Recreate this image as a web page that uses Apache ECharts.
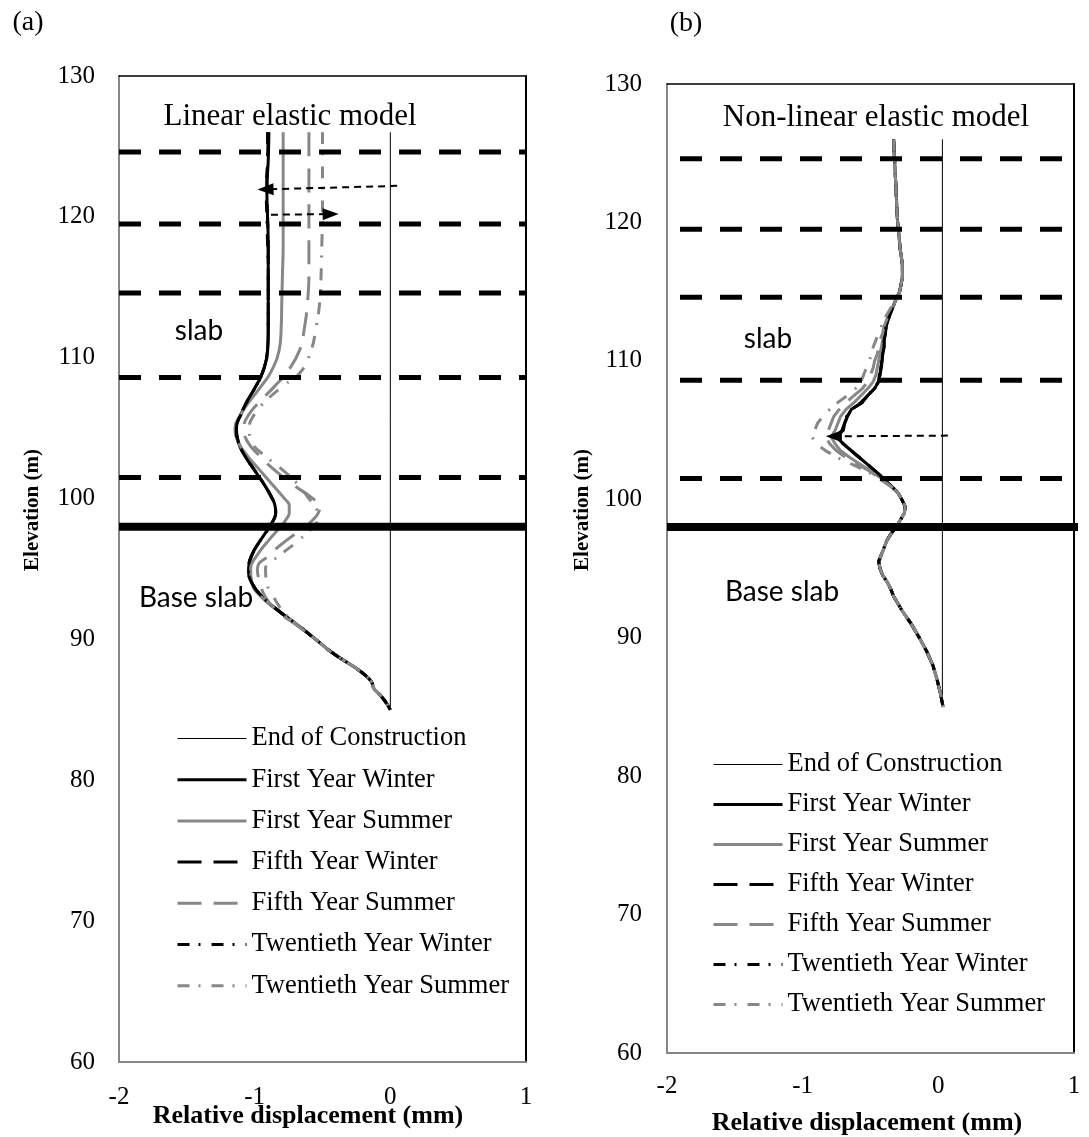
<!DOCTYPE html>
<html><head><meta charset="utf-8">
<script src="https://cdn.jsdelivr.net/npm/echarts@6/dist/echarts.min.js"></script>
<style>html,body{margin:0;padding:0;background:#fff}#c{width:1089px;height:1137px}</style>
</head><body><div id="c"></div>
<script>
// ---------- data ----------
const seriesNames = ['End of Construction','First Year Winter','First Year Summer','Fifth Year Winter','Fifth Year Summer','Twentieth Year Winter','Twentieth Year Summer'];
const xTickValues = [-2, -1, 0, 1];
const yTickValues = [60, 70, 80, 90, 100, 110, 120, 130];
const slabLevels = [124.6, 119.5, 114.6, 108.6, 101.5];
const baseSlabLevel = 98.0;
const slabExtentA = [-2, 1];
const slabExtentB = [-2, 1.11];

// panel (a) linear elastic model
const eocElevA = [85, 126];
const eocA = [0, 0];
const elevA = [126,124,122,120,118,116,114,112,110.5,109,108,107,106,105,104,103,102,101,100,99.5,99,98.5,98,97,96,95,94,93,92,91,90,89,88,87.5,87,86.5,86,85.5,85];
const a_FirstWinter  = [-0.895,-0.90,-0.91,-0.905,-0.90,-0.90,-0.90,-0.90,-0.905,-0.94,-0.99,-1.05,-1.10,-1.135,-1.12,-1.07,-1.00,-0.93,-0.87,-0.85,-0.845,-0.86,-0.89,-0.96,-1.02,-1.045,-1.02,-0.94,-0.82,-0.68,-0.55,-0.42,-0.26,-0.19,-0.14,-0.12,-0.07,-0.03,0];
const a_FirstSummer  = [-0.79,-0.79,-0.79,-0.79,-0.79,-0.795,-0.80,-0.805,-0.82,-0.88,-0.95,-1.03,-1.10,-1.145,-1.12,-1.05,-0.96,-0.87,-0.78,-0.745,-0.745,-0.77,-0.81,-0.90,-0.98,-1.03,-1.02,-0.95,-0.82,-0.68,-0.55,-0.42,-0.26,-0.19,-0.14,-0.12,-0.07,-0.03,0];
const a_FifthWinter  = [-0.90,-0.905,-0.91,-0.905,-0.90,-0.90,-0.90,-0.90,-0.905,-0.94,-0.99,-1.05,-1.10,-1.135,-1.12,-1.07,-1.00,-0.93,-0.87,-0.85,-0.845,-0.86,-0.89,-0.96,-1.02,-1.045,-1.02,-0.94,-0.82,-0.68,-0.55,-0.42,-0.26,-0.19,-0.14,-0.12,-0.07,-0.03,0];
const a_FifthSummer  = [-0.60,-0.60,-0.60,-0.60,-0.60,-0.60,-0.61,-0.635,-0.67,-0.76,-0.85,-0.95,-1.04,-1.08,-1.05,-0.96,-0.85,-0.72,-0.57,-0.52,-0.53,-0.57,-0.63,-0.77,-0.89,-0.98,-0.96,-0.92,-0.83,-0.69,-0.55,-0.42,-0.26,-0.19,-0.14,-0.12,-0.07,-0.03,0];
const a_TwentWinter  = [-0.905,-0.905,-0.915,-0.91,-0.905,-0.90,-0.90,-0.90,-0.905,-0.94,-0.99,-1.05,-1.10,-1.135,-1.12,-1.07,-1.00,-0.93,-0.87,-0.85,-0.845,-0.86,-0.89,-0.96,-1.02,-1.045,-1.02,-0.94,-0.82,-0.68,-0.55,-0.42,-0.26,-0.19,-0.14,-0.12,-0.07,-0.03,0];
const a_TwentSummer  = [-0.50,-0.50,-0.50,-0.50,-0.505,-0.51,-0.52,-0.55,-0.585,-0.66,-0.79,-0.91,-1.00,-1.04,-1.02,-0.92,-0.79,-0.68,-0.60,-0.56,-0.54,-0.54,-0.57,-0.68,-0.81,-0.92,-0.91,-0.86,-0.79,-0.68,-0.55,-0.42,-0.26,-0.19,-0.14,-0.12,-0.07,-0.03,0];
const arrowsA = [[[0.05, 122.2], [-0.92, 121.95]], [[-0.88, 120.15], [-0.44, 120.2]]];

// panel (b) non-linear elastic model
const eocElevB = [85, 126];
const eocB = [0.03, 0.03];
const elevB = [126,125,124,122,120,118,117,116,115,114.5,114,113.5,113,112.5,112,111.5,111,110.5,110,109.5,109,108.5,108,107.5,107,106.5,106,105.5,105,104.5,104,103.5,103,102.5,102,101.5,101,100.5,100,99.5,99,98.5,98,97.5,97,96.5,96,95.5,95,94.5,94,93.5,93,92,91,90,89,88,87,86,85];
const b_FirstWinter = [-0.33,-0.325,-0.32,-0.31,-0.30,-0.28,-0.265,-0.265,-0.285,-0.31,-0.33,-0.35,-0.37,-0.385,-0.39,-0.40,-0.40,-0.41,-0.415,-0.42,-0.43,-0.44,-0.47,-0.52,-0.56,-0.64,-0.67,-0.69,-0.70,-0.75,-0.70,-0.64,-0.58,-0.52,-0.46,-0.405,-0.35,-0.30,-0.27,-0.245,-0.25,-0.28,-0.31,-0.35,-0.38,-0.40,-0.42,-0.44,-0.43,-0.41,-0.375,-0.35,-0.33,-0.27,-0.20,-0.14,-0.085,-0.04,-0.01,0.015,0.035];
const b_FirstSummer = [-0.33,-0.325,-0.32,-0.31,-0.30,-0.28,-0.265,-0.265,-0.285,-0.31,-0.33,-0.355,-0.375,-0.39,-0.40,-0.41,-0.42,-0.43,-0.44,-0.45,-0.46,-0.48,-0.52,-0.57,-0.62,-0.68,-0.72,-0.74,-0.76,-0.79,-0.76,-0.72,-0.65,-0.57,-0.49,-0.42,-0.36,-0.30,-0.27,-0.245,-0.25,-0.28,-0.31,-0.35,-0.38,-0.40,-0.42,-0.44,-0.43,-0.41,-0.375,-0.35,-0.33,-0.27,-0.20,-0.14,-0.085,-0.04,-0.01,0.015,0.035];
const b_FifthWinter = [-0.33,-0.325,-0.32,-0.31,-0.30,-0.28,-0.265,-0.265,-0.285,-0.31,-0.33,-0.35,-0.37,-0.385,-0.39,-0.40,-0.405,-0.41,-0.415,-0.425,-0.43,-0.445,-0.47,-0.52,-0.57,-0.64,-0.67,-0.69,-0.71,-0.75,-0.70,-0.64,-0.58,-0.52,-0.46,-0.405,-0.35,-0.30,-0.27,-0.245,-0.25,-0.28,-0.31,-0.35,-0.38,-0.40,-0.42,-0.44,-0.43,-0.41,-0.375,-0.35,-0.33,-0.27,-0.20,-0.14,-0.085,-0.04,-0.01,0.015,0.035];
const b_FifthSummer = [-0.33,-0.325,-0.32,-0.31,-0.30,-0.28,-0.265,-0.265,-0.285,-0.31,-0.33,-0.36,-0.38,-0.40,-0.41,-0.43,-0.44,-0.45,-0.47,-0.48,-0.50,-0.52,-0.56,-0.62,-0.68,-0.73,-0.77,-0.79,-0.81,-0.83,-0.80,-0.75,-0.68,-0.59,-0.50,-0.43,-0.36,-0.30,-0.27,-0.245,-0.25,-0.28,-0.31,-0.35,-0.38,-0.40,-0.42,-0.44,-0.43,-0.41,-0.375,-0.35,-0.33,-0.27,-0.20,-0.14,-0.085,-0.04,-0.01,0.015,0.035];
const b_TwentWinter = [-0.33,-0.325,-0.32,-0.31,-0.30,-0.28,-0.265,-0.265,-0.285,-0.31,-0.33,-0.35,-0.37,-0.385,-0.395,-0.40,-0.40,-0.41,-0.42,-0.42,-0.435,-0.44,-0.475,-0.52,-0.56,-0.64,-0.675,-0.69,-0.70,-0.755,-0.70,-0.64,-0.58,-0.52,-0.46,-0.405,-0.35,-0.30,-0.27,-0.245,-0.25,-0.28,-0.31,-0.35,-0.38,-0.40,-0.42,-0.44,-0.43,-0.41,-0.375,-0.35,-0.33,-0.27,-0.20,-0.14,-0.085,-0.04,-0.01,0.015,0.035];
const b_TwentSummer = [-0.33,-0.325,-0.32,-0.31,-0.30,-0.28,-0.265,-0.265,-0.285,-0.31,-0.34,-0.37,-0.40,-0.42,-0.44,-0.46,-0.48,-0.49,-0.51,-0.53,-0.55,-0.57,-0.61,-0.67,-0.74,-0.80,-0.85,-0.89,-0.91,-0.93,-0.90,-0.83,-0.74,-0.63,-0.52,-0.44,-0.36,-0.30,-0.27,-0.245,-0.25,-0.28,-0.31,-0.35,-0.38,-0.40,-0.42,-0.44,-0.43,-0.41,-0.375,-0.35,-0.33,-0.27,-0.20,-0.14,-0.085,-0.04,-0.01,0.015,0.035];
const arrowsB = [[[0.07, 104.6], [-0.77, 104.55]]];

// ---------- styles ----------
const GRAY = '#878787';
const SERIF = '"Liberation Serif","Times New Roman",serif';
const SANS = 'Lato,"Open Sans",sans-serif';
const DASH = [24,12];
const DASHDOT = [12,9,2,11];
const styles = [
  {color:'#000', width:1, type:'solid'},
  {color:'#000', width:3, type:'solid'},
  {color:GRAY, width:3, type:'solid'},
  {color:'#000', width:3, type:DASH},
  {color:GRAY, width:3, type:DASH},
  {color:'#000', width:3, type:DASHDOT},
  {color:GRAY, width:3, type:DASHDOT}
];

function pairs(xs, ys){ return xs.map((x,i)=>[x, ys[i]]); }

function panelSeries(g, curves, elev, eocX, eocElev, smooth, arrows, extent, dashOffset){
  const out = [];
  const xi = g*2, yi = g*2;
  out.push({type:'line', name:seriesNames[0], xAxisIndex:xi, yAxisIndex:yi, data:pairs(eocX, eocElev),
    symbol:'none', lineStyle:styles[0], itemStyle:{color:'#000'}, z:3, silent:true});
  curves.forEach((c,k)=>{
    out.push({type:'line', name:seriesNames[k+1], xAxisIndex:xi, yAxisIndex:yi, data:pairs(c, elev),
      symbol:'none', smooth:smooth, lineStyle:styles[k+1], itemStyle:{color:styles[k+1].color}, z:3, silent:true});
  });
  slabLevels.forEach((lv,k)=>{
    const s = {type:'line', xAxisIndex:xi, yAxisIndex:yi, data:[[extent[0],lv],[extent[1],lv]], clip:false,
      symbol:'none', lineStyle:{color:'#000', width:5, type:[22,18], dashOffset:dashOffset}, z:4, silent:true};
    if(k===0){
      s.markLine = {silent:true, symbol:['none','triangle'], symbolSize:[12,16], label:{show:false},
        lineStyle:{color:'#000', width:2, type:[7,5]},
        data: arrows.map(a=>[{coord:a[0]},{coord:a[1]}])};
    }
    out.push(s);
  });
  out.push({type:'line', xAxisIndex:xi, yAxisIndex:yi, data:[[extent[0],baseSlabLevel],[extent[1],baseSlabLevel]], clip:false,
    symbol:'none', lineStyle:{color:'#000', width:8}, z:4, silent:true});
  return out;
}

const series = [].concat(
  panelSeries(0, [a_FirstWinter,a_FirstSummer,a_FifthWinter,a_FifthSummer,a_TwentWinter,a_TwentSummer], elevA, eocA, eocElevA, true, arrowsA, slabExtentA, 0),
  panelSeries(1, [b_FirstWinter,b_FirstSummer,b_FifthWinter,b_FifthSummer,b_TwentWinter,b_TwentSummer], elevB, eocB, eocElevB, false, arrowsB, slabExtentB, 27)
);

const grids = [
  {left:119, top:76, width:407, height:986},
  {left:667, top:84, width:407, height:969}
];

function xAxes(g, margin){
  return [
    {type:'value', gridIndex:g, position:'bottom', min:xTickValues[0], max:xTickValues[3], interval:1,
     axisLine:{show:true, onZero:false, lineStyle:{color:GRAY, width:2}}, axisTick:{show:false}, splitLine:{show:false},
     axisLabel:{color:'#000', fontFamily:SERIF, fontSize:25, margin:margin}},
    {type:'value', gridIndex:g, position:'top', min:xTickValues[0], max:xTickValues[3], interval:1,
     axisLine:{show:true, onZero:false, lineStyle:{color:'#000', width:1.5}}, axisTick:{show:false}, splitLine:{show:false}, axisLabel:{show:false}}
  ];
}
function yAxes(g, margin){
  return [
    {type:'value', gridIndex:g, position:'left', min:yTickValues[0], max:yTickValues[yTickValues.length-1], interval:10,
     axisLine:{show:true, onZero:false, lineStyle:{color:GRAY, width:2}}, axisTick:{show:false}, splitLine:{show:false},
     axisLabel:{color:'#000', fontFamily:SERIF, fontSize:25, margin:margin}},
    {type:'value', gridIndex:g, position:'right', min:yTickValues[0], max:yTickValues[yTickValues.length-1], interval:10,
     axisLine:{show:true, onZero:false, lineStyle:{color:'#000', width:2}}, axisTick:{show:false}, splitLine:{show:false}, axisLabel:{show:false}}
  ];
}

const legendData = seriesNames.map((n,i)=>({name:n, lineStyle:{width:styles[i].width, color:styles[i].color, type:styles[i].type}}));
const legendCommon = {orient:'vertical', itemWidth:69, itemHeight:14, padding:0, selectedMode:false,
  textStyle:{color:'#000', fontFamily:SERIF, fontSize:26.5}, itemStyle:{opacity:0}, data:legendData};

function txt(x, y, text, font, rot){
  return {type:'text', x:x, y:y, rotation:rot||0, silent:true,
    style:{text:text, font:font, fill:'#000', align:'center', verticalAlign:'middle'}};
}

const option = {
  animation:false,
  backgroundColor:'#fff',
  grid:grids,
  xAxis:[].concat(xAxes(0,23), xAxes(1,21)),
  yAxis:[].concat(yAxes(0,24), yAxes(1,25)),
  legend:[
    Object.assign({left:176, top:725, itemGap:14.2}, legendCommon),
    Object.assign({left:712, top:751, itemGap:13}, legendCommon)
  ],
  series:series,
  graphic:[
    txt(28, 23, '(a)', '28px ' + SERIF),
    txt(686, 24, '(b)', '28px ' + SERIF),
    txt(290, 117, 'Linear elastic model', '31px ' + SERIF),
    txt(876, 118, 'Non-linear elastic model', '31px ' + SERIF),
    txt(199, 331, 'slab', '28px ' + SANS),
    txt(196, 598, 'Base slab', '28px ' + SANS),
    txt(768, 339, 'slab', '28px ' + SANS),
    txt(782, 592, 'Base slab', '28px ' + SANS),
    txt(33, 510, 'Elevation (m)', 'bold 21px ' + SERIF, Math.PI/2),
    txt(583, 510, 'Elevation (m)', 'bold 21px ' + SERIF, Math.PI/2),
    txt(308, 1116, 'Relative displacement (mm)', 'bold 26px ' + SERIF),
    txt(867, 1123, 'Relative displacement (mm)', 'bold 26px ' + SERIF)
  ]
};

const chart = echarts.init(document.getElementById('c'), null, {renderer:'canvas'});
chart.setOption(option);
</script></body></html>
